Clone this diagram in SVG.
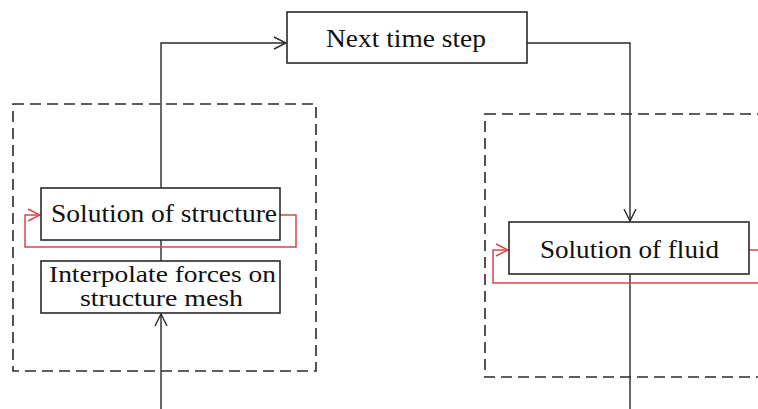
<svg xmlns="http://www.w3.org/2000/svg" width="758" height="409" viewBox="0 0 758 409">
<style>
.box{fill:#fff;stroke:#2a2a2a;stroke-width:1.6}
.dash{fill:none;stroke:#2a2a2a;stroke-width:1.6;stroke-dasharray:11,6}
.ln{fill:none;stroke:#2a2a2a;stroke-width:1.4}
.red{fill:none;stroke:#d8474a;stroke-width:1.5}
text{font-family:"Liberation Serif","DejaVu Serif",serif;font-size:26px;fill:#111;text-anchor:start}
text.sm{font-size:23px}
</style>
<defs>
<marker id="ah" viewBox="0 0 14 14" refX="13" refY="7" markerWidth="14" markerHeight="14" markerUnits="userSpaceOnUse" orient="auto">
<path d="M1,1 L13,7 L1,13" fill="none" stroke="#2a2a2a" stroke-width="1.4"/>
</marker>
<marker id="ahr" viewBox="0 0 14 14" refX="13" refY="7" markerWidth="14" markerHeight="14" markerUnits="userSpaceOnUse" orient="auto">
<path d="M1,1 L13,7 L1,13" fill="none" stroke="#d8474a" stroke-width="1.5"/>
</marker>
</defs>
<rect class="dash" x="13" y="104" width="303" height="267"/>
<rect class="dash" x="485" y="114" width="290" height="263"/>
<g id="connectors">
<path class="ln" d="M161,188 V43 H286" marker-end="url(#ah)"/>
<path class="ln" d="M527,43 H630 V221" marker-end="url(#ah)"/>
<path class="ln" d="M161,240 V261"/>
<path class="ln" d="M161,409 V314" marker-end="url(#ah)"/>
<path class="ln" d="M630,274 V409"/>
<path class="red" d="M280,215 H296 V247 H25 V215 H40" marker-end="url(#ahr)"/>
<path class="red" d="M749,250 H760 V283 H493 V250 H508" marker-end="url(#ahr)"/>
</g>
<g id="next">
<rect class="box" x="287" y="12" width="240" height="51"/>
<text x="326" y="47" textLength="160" lengthAdjust="spacingAndGlyphs">Next time step</text>
</g>
<g id="structure">
<rect class="box" x="41" y="188" width="239" height="52"/>
<text x="51" y="222" textLength="226" lengthAdjust="spacingAndGlyphs">Solution of structure</text>
</g>
<g id="interpolate">
<rect class="box" x="41" y="261" width="239" height="52"/>
<text class="sm" x="49" y="282" textLength="227" lengthAdjust="spacingAndGlyphs">Interpolate forces on</text>
<text class="sm" x="80" y="306" textLength="163" lengthAdjust="spacingAndGlyphs">structure mesh</text>
</g>
<g id="fluid">
<rect class="box" x="509" y="222" width="240" height="52"/>
<text x="540" y="258" textLength="179" lengthAdjust="spacingAndGlyphs">Solution of fluid</text>
</g>
</svg>
